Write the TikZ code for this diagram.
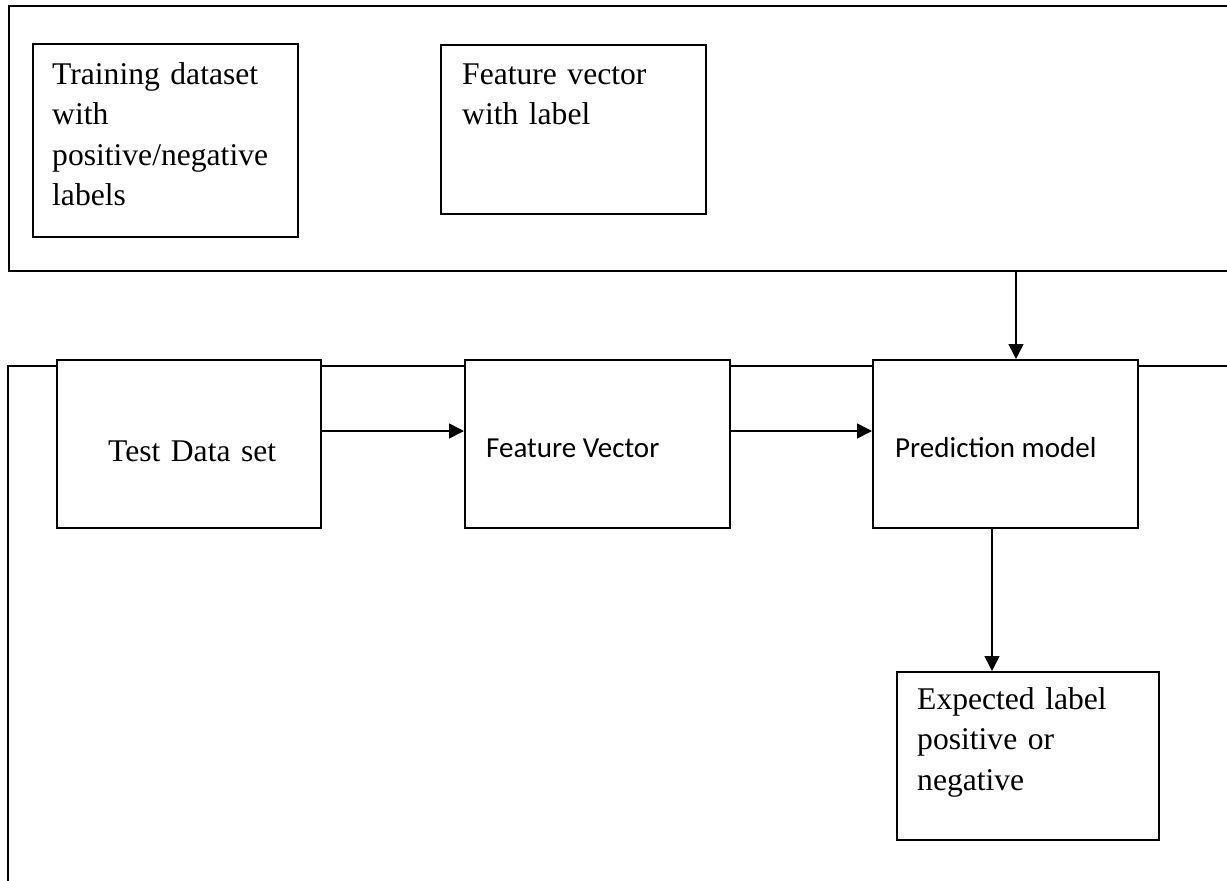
\documentclass[tikz,border=0pt]{standalone}
\usepackage{fontspec}
\setmainfont{Liberation Serif}
\newfontfamily\calibri{Carlito}
\usetikzlibrary{arrows.meta}
\begin{document}
\begin{tikzpicture}[x=1pt,y=-1pt,
  frame/.style={draw, line width=1.6pt, anchor=north west, inner sep=0pt, outer sep=0pt},
  box/.style={draw, fill=white, line width=1.6pt, anchor=north west, inner sep=0pt},
  serif/.style={anchor=base west, inner sep=0pt, align=left, text width=#1,
    font=\fontsize{31.6}{40.5}\selectfont},
  sans/.style={anchor=base west, inner sep=0pt, font=\calibri\fontsize{29}{35}\selectfont},
  arr/.style={line width=1.6pt, -{Triangle[length=15pt,width=15pt]}}]
\useasboundingbox (0,0) rectangle (1227,881);
\clip (0,0) rectangle (1227,881);
% frames
\node[frame, minimum width=1240pt, minimum height=265pt] (trainframe) at (9,6) {};
\node[frame, minimum width=1240pt, minimum height=540pt] (testframe) at (8,366) {};
% boxes
\node[box, minimum width=265pt, minimum height=193pt] (train) at (32,43) {};
\node[box, minimum width=265pt, minimum height=169pt] (fvl) at (440,44) {};
\node[box, minimum width=264pt, minimum height=168pt] (test) at (56,359) {};
\node[box, minimum width=265pt, minimum height=168pt] (feat) at (464,359) {};
\node[box, minimum width=265pt, minimum height=168pt] (pred) at (872,359) {};
\node[box, minimum width=262pt, minimum height=168pt] (exp) at (896,671) {};
% texts
\node[serif=240pt] (traintxt) at (52,84) {Training dataset\\with\\positive/negative\\labels};
\node[serif=240pt] (fvltxt) at (462,84) {Feature vector\\with label};
\node[serif=200pt] (testtxt) at (108,461) {Test Data set};
\node[sans] (feattxt) at (486,457) {Feature Vector};
\node[sans] (predtxt) at (895,457) {Prediction model};
\node[serif=240pt] (exptxt) at (917,709) {Expected label\\positive or\\negative};
% connectors
\coordinate (a1) at (1016,271);
\coordinate (h) at (0,431);
\coordinate (v) at (992,0);
\draw[arr] (a1) -- (a1 |- pred.north);
\draw[arr] (test.east |- h) -- (feat.west |- h);
\draw[arr] (feat.east |- h) -- (pred.west |- h);
\draw[arr] (pred.south -| v) -- (exp.north -| v);
\end{tikzpicture}
\end{document}
